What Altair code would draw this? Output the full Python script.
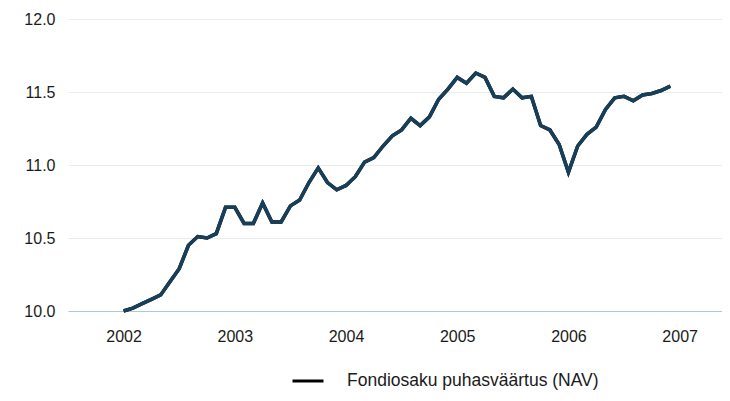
import altair as alt
import pandas as pd

years = [2002, 2003, 2004, 2005, 2006]
months = list(range(12))
nav = [
    10.00, 10.02, 10.05, 10.08, 10.11, 10.20, 10.29, 10.45, 10.51, 10.50, 10.53, 10.71,
    10.71, 10.60, 10.60, 10.74, 10.61, 10.61, 10.72, 10.76, 10.88, 10.98, 10.88, 10.83,
    10.86, 10.92, 11.02, 11.05, 11.13, 11.20, 11.24, 11.32, 11.27, 11.33, 11.45, 11.52,
    11.60, 11.56, 11.63, 11.60, 11.47, 11.46, 11.52, 11.46, 11.47, 11.27, 11.24, 11.14,
    10.95, 11.13, 11.21, 11.26, 11.38, 11.46, 11.47, 11.44, 11.48, 11.49, 11.51, 11.54,
]
series_name = "Fondiosaku puhasväärtus (NAV)"
year_ticks = [2002, 2003, 2004, 2005, 2006, 2007]
y_ticks = [10.0, 10.5, 11.0, 11.5, 12.0]

t = [yr + m / 12 for yr in years for m in months]
df = pd.DataFrame({"t": t, "nav": nav, "series": series_name})

FONT = "Liberation Sans, Arial, sans-serif"
LINE = "#173f5a"

x = alt.X(
    "t:Q",
    scale=alt.Scale(domain=[2001.5, 2007.381], nice=False, zero=False),
    axis=alt.Axis(
        values=year_ticks, format="d", title=None, grid=False, ticks=False,
        domainColor="#a8ccd6", domainWidth=1, labelFontSize=16, labelPadding=17,
        labelColor="#1a1a1a", labelFont=FONT,
    ),
)
y = alt.Y(
    "nav:Q",
    scale=alt.Scale(domain=[10, 12], nice=False, zero=False),
    axis=alt.Axis(
        values=y_ticks, format=".1f", title=None, domain=False, ticks=False,
        grid=True, gridColor="#e6edef", gridWidth=1, labelFontSize=16,
        labelPadding=13, labelColor="#1a1a1a", labelFont=FONT,
    ),
)

legend_layer = alt.Chart(df).mark_line(strokeWidth=3.5).encode(
    x=x,
    y=y,
    color=alt.Color(
        "series:N",
        scale=alt.Scale(range=["#000000"]),
        legend=alt.Legend(
            title=None, orient="none", legendX=223, legendY=345,
            symbolType="stroke", symbolSize=961, symbolStrokeWidth=3,
            labelFontSize=17.5, labelOffset=22, labelFont=FONT,
            labelColor="#1a1a1a", padding=0, labelLimit=0,
        ),
    ),
)

main = alt.Chart(df).mark_line(strokeWidth=3.5, color=LINE).encode(x=x, y=y)

chart = alt.layer(legend_layer, main).properties(
    width=654,
    height=292,
    padding={"left": 60, "top": 11, "right": 0, "bottom": 82},
    autosize=alt.AutoSizeParams(type="none"),
    background="white",
).configure_view(stroke=None)

chart.save("out.html", embed_options={"renderer": "svg", "actions": False})
